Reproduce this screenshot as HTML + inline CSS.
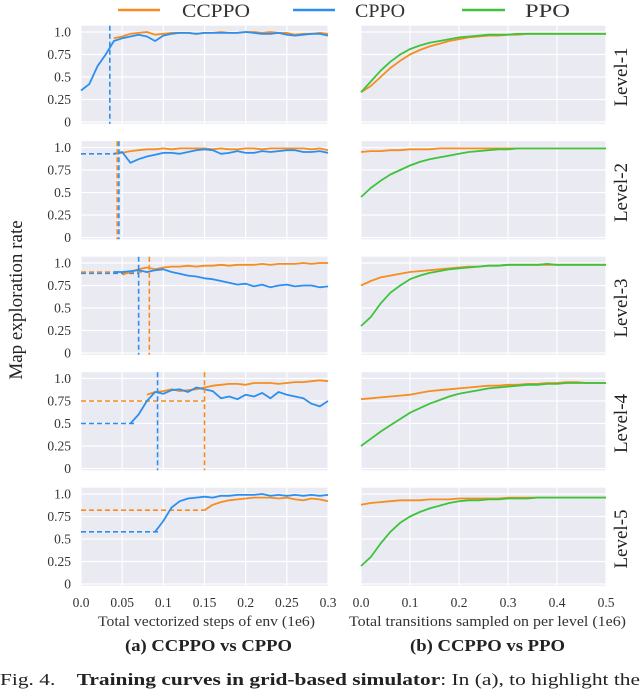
<!DOCTYPE html>
<html><head><meta charset="utf-8">
<style>
body{margin:0;background:#fff;}
svg{display:block;font-family:"Liberation Serif",serif;}
</style></head>
<body>
<svg id="chart" width="640" height="689" viewBox="0 0 640 689" xmlns="http://www.w3.org/2000/svg">
<g id="legend">
 <g><line x1="118" y1="10" x2="160" y2="10" stroke="#f68d1e" stroke-width="2.5"/><text x="182" y="17" font-size="19" textLength="68" lengthAdjust="spacingAndGlyphs" fill="#333">CCPPO</text></g>
 <g><line x1="293" y1="10" x2="335" y2="10" stroke="#2b8ff0" stroke-width="2.5"/><text x="355" y="17" font-size="19" textLength="50" lengthAdjust="spacingAndGlyphs" fill="#333">CPPO</text></g>
 <g><line x1="462" y1="10" x2="505" y2="10" stroke="#3cc43c" stroke-width="2.5"/><text x="525" y="17" font-size="19" textLength="45" lengthAdjust="spacingAndGlyphs" fill="#333">PPO</text></g>
</g>
<text x="22" y="300" font-size="19" fill="#222" text-anchor="middle" transform="rotate(-90 22 300)">Map exploration rate</text>
<g id="plots"></g>
<text x="98" y="626" font-size="14.5" fill="#333" textLength="217" lengthAdjust="spacingAndGlyphs">Total vectorized steps of env (1e6)</text>
<text x="349" y="626" font-size="14.5" fill="#333" textLength="277" lengthAdjust="spacingAndGlyphs">Total transitions sampled on per level (1e6)</text>
<text x="125" y="651" font-size="17" font-weight="bold" fill="#222" textLength="167" lengthAdjust="spacingAndGlyphs">(a) CCPPO vs CPPO</text>
<text x="410" y="651" font-size="17" font-weight="bold" fill="#222" textLength="155" lengthAdjust="spacingAndGlyphs">(b) CCPPO vs PPO</text>
<text x="0" y="685" font-size="17" fill="#222" textLength="640" lengthAdjust="spacingAndGlyphs">Fig. 4.&#160;&#160;&#160; <tspan font-weight="bold">Training curves in grid-based simulator</tspan>: In (a), to highlight the</text>
</svg>
<script>
const levels=["Level-1","Level-2","Level-3","Level-4","Level-5"];
const yTicks=[0,0.25,0.5,0.75,1.0];
const yTickLabels=["0","0.25","0.5","0.75","1.0"];
const leftXTicks=[0,0.05,0.1,0.15,0.2,0.25,0.3];
const leftXTickLabels=["0.0","0.05","0.1","0.15","0.2","0.25","0.3"];
const rightXTicks=[0,0.1,0.2,0.3,0.4,0.5];
const rightXTickLabels=["0.0","0.1","0.2","0.3","0.4","0.5"];
const leftStep=0.01;
const rightStep=0.02;
const N=null;
const L1Blue=[0.35,0.42,0.62,0.75,0.9,0.93,0.95,0.97,0.95,0.9,0.96,0.98,0.99,0.99,0.98,0.99,0.99,0.99,0.99,0.99,1.0,0.99,0.98,0.98,0.99,0.97,0.96,0.97,0.98,0.98,0.96];
const L1Orange=[N,N,N,N,0.93,0.95,0.98,0.99,1.0,0.97,0.98,0.99,0.99,0.99,0.98,0.99,0.99,1.0,0.99,0.99,1.0,1.0,0.99,1.0,0.99,0.99,0.97,0.98,0.98,0.99,0.98];
const L2Blue=[N,N,N,N,0.93,0.95,0.83,0.87,0.9,0.92,0.94,0.94,0.93,0.95,0.97,0.98,0.97,0.93,0.94,0.96,0.94,0.94,0.96,0.95,0.96,0.97,0.97,0.95,0.95,0.96,0.94];
const L2Orange=[N,N,N,N,0.93,0.94,0.96,0.97,0.98,0.98,0.99,0.98,0.99,0.99,0.99,0.99,0.98,0.99,0.98,0.98,0.99,0.99,0.98,0.99,0.99,0.99,0.99,0.99,0.98,0.99,0.97];
const L3Blue=[N,N,N,N,0.9,0.9,0.91,0.92,0.9,0.92,0.93,0.9,0.88,0.86,0.85,0.83,0.82,0.8,0.78,0.76,0.77,0.74,0.76,0.73,0.75,0.76,0.74,0.75,0.75,0.73,0.74];
const L3Orange=[N,N,N,N,N,0.87,0.9,0.93,0.95,0.93,0.95,0.96,0.96,0.97,0.96,0.97,0.97,0.98,0.97,0.98,0.98,0.98,0.99,0.98,0.99,0.99,0.99,1.0,0.99,1.0,1.0];
const L4Blue=[N,N,N,N,N,N,0.5,0.6,0.75,0.85,0.83,0.87,0.88,0.85,0.9,0.88,0.86,0.78,0.8,0.77,0.82,0.8,0.84,0.78,0.85,0.82,0.8,0.78,0.72,0.69,0.75];
const L4Orange=[N,N,N,N,N,N,N,N,0.82,0.85,0.86,0.88,0.86,0.87,0.88,0.9,0.92,0.93,0.94,0.94,0.93,0.95,0.95,0.95,0.94,0.95,0.96,0.96,0.97,0.98,0.97];
const L5Blue=[N,N,N,N,N,N,N,N,N,0.58,0.7,0.85,0.92,0.95,0.96,0.97,0.96,0.98,0.98,0.99,0.99,0.99,1.0,0.98,0.99,0.98,0.99,0.98,0.99,0.98,0.99];
const L5Orange=[N,N,N,N,N,N,N,N,N,N,N,N,N,N,N,0.82,0.88,0.91,0.93,0.94,0.95,0.96,0.96,0.96,0.95,0.96,0.94,0.93,0.95,0.94,0.92];
const blueHLines=[[1,0.045,0.93],[2,0.07,0.885],[3,0.065,0.5],[4,0.095,0.58]];
const orangeHLines=[[2,0.083,0.9],[3,0.15,0.75],[4,0.15,0.82]];
const blueVLines=[[0,0.035],[1,0.046],[2,0.07],[3,0.093]];
const orangeVLines=[[1,0.044],[2,0.083],[3,0.15]];
const R1Orange=[0.33,0.4,0.5,0.6,0.68,0.75,0.8,0.84,0.87,0.9,0.92,0.94,0.95,0.96,0.96,0.97,0.97,0.98,0.98,0.98,0.98,0.98,0.98,0.98,0.98,0.98];
const R1Green=[0.33,0.45,0.57,0.67,0.75,0.81,0.85,0.88,0.9,0.92,0.94,0.95,0.96,0.97,0.97,0.97,0.98,0.98,0.98,0.98,0.98,0.98,0.98,0.98,0.98,0.98];
const R2Orange=[0.95,0.96,0.96,0.97,0.97,0.98,0.98,0.98,0.99,0.99,0.99,0.99,0.99,0.99,0.99,0.99,0.99,0.99,0.99,0.99,0.99,0.99,0.99,0.99,0.99,0.99];
const R2Green=[0.45,0.55,0.63,0.7,0.75,0.8,0.84,0.87,0.89,0.91,0.93,0.95,0.96,0.97,0.98,0.98,0.99,0.99,0.99,0.99,0.99,0.99,0.99,0.99,0.99,0.99];
const R3Orange=[0.75,0.8,0.84,0.86,0.88,0.9,0.91,0.92,0.93,0.94,0.95,0.96,0.96,0.97,0.97,0.98,0.98,0.98,0.98,0.98,0.98,0.98,0.98,0.98,0.98,0.98];
const R3Green=[0.3,0.4,0.55,0.67,0.75,0.82,0.86,0.89,0.91,0.93,0.94,0.95,0.96,0.97,0.97,0.98,0.98,0.98,0.98,0.99,0.98,0.98,0.98,0.98,0.98,0.98];
const R4Orange=[0.77,0.78,0.79,0.8,0.81,0.82,0.84,0.86,0.87,0.88,0.89,0.9,0.91,0.92,0.92,0.93,0.93,0.94,0.94,0.95,0.95,0.96,0.96,0.95,0.95,0.95];
const R4Green=[0.25,0.33,0.41,0.48,0.55,0.62,0.67,0.72,0.76,0.8,0.83,0.85,0.87,0.89,0.9,0.91,0.92,0.93,0.93,0.94,0.94,0.95,0.95,0.95,0.95,0.95];
const R5Orange=[0.88,0.9,0.91,0.92,0.93,0.93,0.93,0.94,0.94,0.94,0.95,0.95,0.95,0.95,0.95,0.96,0.96,0.96,0.96,0.96,0.96,0.96,0.96,0.96,0.96,0.96];
const R5Green=[0.2,0.3,0.45,0.58,0.68,0.75,0.8,0.84,0.87,0.9,0.92,0.93,0.93,0.94,0.94,0.95,0.95,0.95,0.96,0.96,0.96,0.96,0.96,0.96,0.96,0.96];

const leftBlue=[L1Blue,L2Blue,L3Blue,L4Blue,L5Blue];
const leftOrange=[L1Orange,L2Orange,L3Orange,L4Orange,L5Orange];
const rightOrange=[R1Orange,R2Orange,R3Orange,R4Orange,R5Orange];
const rightGreen=[R1Green,R2Green,R3Green,R4Green,R5Green];

const NS="http://www.w3.org/2000/svg";
const root=document.getElementById('plots');
const ORANGE="#f68d1e",BLUE="#2b8ff0",GREEN="#3cc43c";
const L={x0:81,x1:328,max:0.3}, R={x0:361,x1:606,max:0.5};
function sx(a,v){return a.x0+(a.x1-a.x0)*v/a.max;}
function sy(k,v){return 122+115.5*k-90*v;}
function el(tag,attrs,parent){const e=document.createElementNS(NS,tag);for(const k in attrs)e.setAttribute(k,attrs[k]);(parent||root).appendChild(e);return e;}
function line(a,k,vals,step,color,name,g){
  let d="",pen=false;
  vals.forEach((v,i)=>{if(v===null){pen=false;return;}d+=(pen?"L":"M")+sx(a,i*step).toFixed(1)+","+sy(k,v).toFixed(1);pen=true;});
  const p=el('path',{d:d,fill:"none",stroke:color,"stroke-width":1.8,"stroke-linejoin":"round"},g);
  
  
}
function panel(a,k,ticks,labels,side){
  const g=el('g',{});
  
  
  const top=sy(k,1.07),bot=sy(k,-0.02);
  el('rect',{x:a.x0,y:top,width:a.x1-a.x0,height:bot-top,fill:"#eaeaf2"},g);
  ticks.forEach(t=>el('line',{x1:sx(a,t),x2:sx(a,t),y1:top,y2:bot,stroke:"#fff","stroke-width":1.2},g));
  yTicks.forEach(t=>el('line',{x1:a.x0,x2:a.x1,y1:sy(k,t),y2:sy(k,t),stroke:"#fff","stroke-width":1.2},g));
  if(side==='left'){
    yTicks.forEach((t,i)=>{const tx=el('text',{x:71,y:sy(k,t)+4.5,"font-size":13.5,"text-anchor":"end",fill:"#333"},g);tx.textContent=yTickLabels[i];
      
      });
  }
  if(k===4){
    ticks.forEach((t,i)=>{const tx=el('text',{x:sx(a,t),y:607,"font-size":13.5,"text-anchor":"middle",fill:"#333"});tx.textContent=labels[i];
      
      });
  }
  return g;
}
for(let k=0;k<5;k++){
  const g=panel(L,k,leftXTicks,leftXTickLabels,'left');
  blueHLines.filter(h=>h[0]===k).forEach(h=>{const l=el('line',{x1:L.x0,x2:sx(L,h[1]),y1:sy(k,h[2]),y2:sy(k,h[2]),stroke:BLUE,"stroke-width":1.6,"stroke-dasharray":"5,3"},g);
    
    });
  orangeHLines.filter(h=>h[0]===k).forEach(h=>{const l=el('line',{x1:L.x0,x2:sx(L,h[1]),y1:sy(k,h[2]),y2:sy(k,h[2]),stroke:ORANGE,"stroke-width":1.6,"stroke-dasharray":"5,3"},g);
    
    });
  line(L,k,leftOrange[k],leftStep,ORANGE,'ccppo-line-level-'+(k+1),g);
  line(L,k,leftBlue[k],leftStep,BLUE,'cppo-line-level-'+(k+1),g);
  orangeVLines.filter(h=>h[0]===k).forEach(h=>{const l=el('line',{x1:sx(L,h[1]),x2:sx(L,h[1]),y1:sy(k,1.07),y2:sy(k,-0.02),stroke:ORANGE,"stroke-width":1.6,"stroke-dasharray":"5,3"},g);
    
    });
  blueVLines.filter(h=>h[0]===k).forEach(h=>{const l=el('line',{x1:sx(L,h[1]),x2:sx(L,h[1]),y1:sy(k,1.07),y2:sy(k,-0.02),stroke:BLUE,"stroke-width":1.6,"stroke-dasharray":"5,3"},g);
    
    });
  const g2=panel(R,k,rightXTicks,rightXTickLabels,'right');
  line(R,k,rightOrange[k],rightStep,ORANGE,'ccppo-line-right-level-'+(k+1),g2);
  line(R,k,rightGreen[k],rightStep,GREEN,'ppo-line-level-'+(k+1),g2);
  const cy=sy(k,0.5);
  const t=el('text',{x:627,y:cy,"font-size":19,"text-anchor":"middle",fill:"#222",transform:`rotate(-90 627 ${cy})`});
  t.textContent=levels[k];
  
  
}
</script>
</body></html>
